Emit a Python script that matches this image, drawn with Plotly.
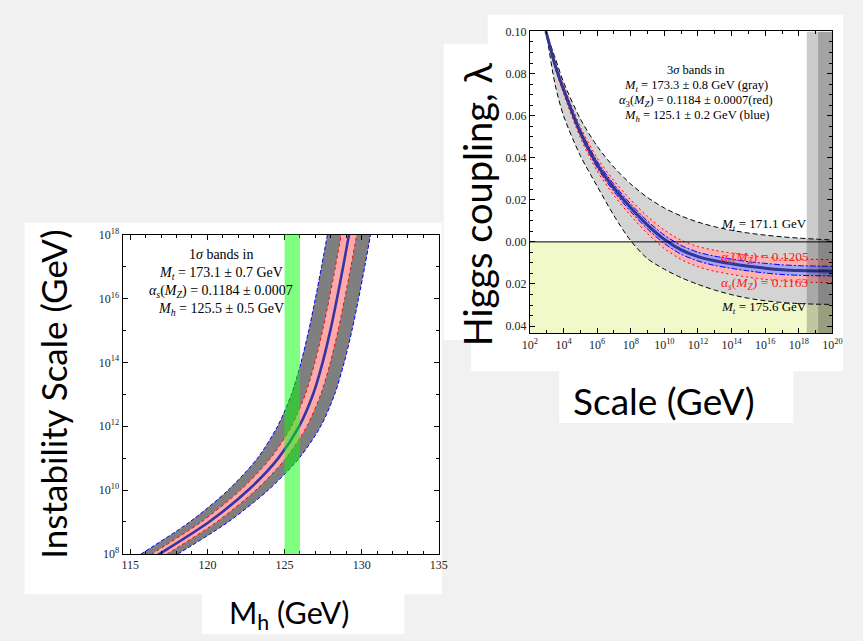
import plotly.graph_objects as go

W, H = 863, 641
def px(x): return x / W
def py(y): return 1 - y / H

# ---------------- Left panel data (instability scale vs Higgs mass) ----------------
log_lambda  = [7.7, 8, 9, 10, 11, 12, 13, 14, 15, 16, 17, 18, 18.3]
mh_central  = [115.9, 116.9, 120.1, 122.65, 124.6, 125.95, 126.85, 127.47, 127.97, 128.4, 128.8, 129.18, 129.3]
mh_gray_half = [1.2, 1.2, 1.25, 1.3, 1.35, 1.4, 1.4, 1.4, 1.4, 1.4, 1.4, 1.4, 1.4]   # M_t band (1 sigma)
mh_pink_half = [0.5, 0.5, 0.5, 0.5, 0.5, 0.5, 0.5, 0.5, 0.5, 0.5, 0.5, 0.5, 0.5]    # alpha_s band
mh_exp_band  = [125.0, 126.0]
left_x_range = [114.5, 135]
left_y_range = [8, 18]
left_xticks  = [115, 120, 125, 130, 135]
left_ytick_exps  = [8, 10, 12, 14, 16, 18]
left_yminor_exps = [9, 11, 13, 15, 17]

# ---------------- Right panel data (Higgs coupling vs scale) ----------------
log_mu    = [2.7, 3, 3.5, 4, 5, 6, 7, 8, 9, 10, 11, 12, 13, 14, 15, 16, 17, 18, 19, 20, 20.3]
lam_c     = [0.1075, 0.0987, 0.0840, 0.0725, 0.0521, 0.0368, 0.0256, 0.0162, 0.0080, 0.0012, -0.0038, -0.0070,
             -0.0090, -0.0104, -0.0116, -0.0125, -0.0132, -0.0136, -0.0138, -0.0139, -0.0139]
lam_mt_lo = [0.1080, 0.0991, 0.0875, 0.0760, 0.0585, 0.0455, 0.0355, 0.0275, 0.0211, 0.0161, 0.0123, 0.0094,
             0.0072, 0.0055, 0.0042, 0.0032, 0.0024, 0.0018, 0.0013, 0.0009, 0.0008]          # M_t = 171.1 GeV
lam_mt_hi = [0.1120, 0.0981, 0.0748, 0.0600, 0.0410, 0.0265, 0.0125, 0.0005, -0.0080, -0.0130, -0.0170, -0.0202,
             -0.0229, -0.0251, -0.0268, -0.0280, -0.0288, -0.0293, -0.0296, -0.0297, -0.0297]  # M_t = 175.6 GeV
alpha_half = [0.0005, 0.0008, 0.0015, 0.0020, 0.0026, 0.0031, 0.0035, 0.0038, 0.0041, 0.0044, 0.0046, 0.0048,
              0.0050, 0.0051, 0.0052, 0.0053, 0.0054, 0.0054, 0.0055, 0.0055, 0.0055]
mh_half    = [0.0003, 0.0005, 0.0008, 0.0010, 0.0013, 0.0015, 0.0017, 0.0018, 0.0019, 0.0020, 0.0021, 0.0021,
              0.0022, 0.0022, 0.0022, 0.0023, 0.0023, 0.0023, 0.0023, 0.0023, 0.0023]
planck_band_log = [18.47, 19.15, 20.0]
right_x_range = [2, 20]
right_y_range = [-0.0434, 0.10]
right_xtick_exps  = [2, 4, 6, 8, 10, 12, 14, 16, 18, 20]
right_xminor_exps = [3, 5, 7, 9, 11, 13, 15, 17, 19]
right_yticks = [-0.04, -0.02, 0.00, 0.02, 0.04, 0.06, 0.08, 0.10]
right_yticktext = ["0.04", "0.02", "0.00", "0.02", "0.04", "0.06", "0.08", "0.10"]

SERIF = "Liberation Serif, Times New Roman, serif"
SANS = "Lato, Open Sans, sans-serif"

def pw(vals):
    return [10.0 ** v for v in vals]
def add(a, b, s=1):
    return [u + s * v for u, v in zip(a, b)]

fig = go.Figure()

# ---- left panel traces ----
yl = pw(log_lambda)
def left_line(x, color, dash, width=1, fill=None, fillcolor=None):
    fig.add_trace(go.Scatter(x=x, y=yl, mode="lines", fill=fill, fillcolor=fillcolor,
                             line=dict(color=color, width=width, dash=dash, shape="spline", smoothing=0.8),
                             xaxis="x", yaxis="y", showlegend=False, hoverinfo="skip"))
left_line(add(mh_central, mh_gray_half, -1), "#0000ff", "4px,2px")
left_line(add(mh_central, mh_gray_half, 1), "#0000ff", "4px,2px", fill="tonextx", fillcolor="#7f7f7f")
left_line(add(mh_central, mh_pink_half, -1), "#ff0000", "3px,3px")
left_line(add(mh_central, mh_pink_half, 1), "#ff0000", "3px,3px", fill="tonextx", fillcolor="#ffaaaa")
left_line(mh_central, "#3434a4", "solid", width=2.6)

# ---- right panel traces ----
xr = pw(log_mu)
def right_line(y, color, dash, width=1, fill=None, fillcolor=None):
    fig.add_trace(go.Scatter(x=xr, y=y, mode="lines", fill=fill, fillcolor=fillcolor,
                             line=dict(color=color, width=width, dash=dash, shape="spline", smoothing=0.8),
                             xaxis="x2", yaxis="y2", showlegend=False, hoverinfo="skip"))
right_line(lam_mt_hi, "black", "5px,3px")
right_line(lam_mt_lo, "black", "5px,3px", fill="tonexty", fillcolor="#d4d4d4")
right_line(add(lam_c, alpha_half, -1), "#ff0000", "2px,3px")
right_line(add(lam_c, alpha_half, 1), "#ff0000", "2px,3px", fill="tonexty", fillcolor="#ffb2b2")
right_line(add(lam_c, mh_half, -1), "#0000ff", "6px,2px,2px,2px")
right_line(add(lam_c, mh_half, 1), "#0000ff", "6px,2px,2px,2px", fill="tonexty", fillcolor="#a4a4f4")
right_line(lam_c, "#353592", "solid", width=3)
fig.add_trace(go.Scatter(x=pw(right_x_range), y=[0, 0], mode="lines", line=dict(color="black", width=1),
                         xaxis="x2", yaxis="y2", showlegend=False, hoverinfo="skip"))
# Planck-scale shaded strips
for lo in planck_band_log[:2]:
    xs = pw([lo, planck_band_log[2], planck_band_log[2], lo])
    ys = [right_y_range[0], right_y_range[0], right_y_range[1], right_y_range[1]]
    fig.add_trace(go.Scatter(x=xs, y=ys, mode="lines", fill="toself", fillcolor="rgba(0,0,0,0.2)",
                             line=dict(width=0), xaxis="x2", yaxis="y2", showlegend=False, hoverinfo="skip"))

shapes = []
# white panels
for (x0, y0, x1, y1) in [(17, 220, 443, 600), (198, 600, 405, 641),
                         (490, 7, 853, 372), (445, 37, 490, 340), (473, 340, 490, 372), (563, 372, 802, 425)]:
    shapes.append(dict(type="rect", xref="paper", yref="paper", x0=px(x0), x1=px(x1), y0=py(y1), y1=py(y0),
                       fillcolor="white", line=dict(width=0), layer="below"))
# yellow unstable region (lambda < 0)
shapes.append(dict(type="rect", xref="x2 domain", yref="y2", x0=0, x1=1, y0=right_y_range[0], y1=0,
                   fillcolor="#f1f8c9", line=dict(width=0), layer="below"))
# experimental Higgs mass band (left)
shapes.append(dict(type="rect", xref="x", yref="y domain", x0=mh_exp_band[0], x1=mh_exp_band[1], y0=0, y1=1,
                   fillcolor="rgba(0,255,0,0.5)", line=dict(width=0), layer="above"))

ann = []
def text(x, y, s, size=13, color="black", font=SERIF, angle=0):
    ann.append(dict(x=px(x), y=py(y), xref="paper", yref="paper", text=s, showarrow=False,
                    font=dict(family=font, size=size, color=color), textangle=angle,
                    xanchor="center", yanchor="middle"))

# left panel inset text
text(218, 252, "1<i>σ</i> bands in", 14)
text(218, 272, "<i>M<sub>t</sub></i> = 173.1 ± 0.7 GeV", 14)
text(218, 290, "<i>α<sub>s</sub></i>(<i>M<sub>Z</sub></i>) = 0.1184 ± 0.0007", 14)
text(218, 309, "<i>M<sub>h</sub></i> = 125.5 ± 0.5 GeV", 14)
# right panel inset text
text(703, 63, "3<i>σ</i> bands in", 12.5)
text(703, 80, "<i>M<sub>t</sub></i> = 173.3 ± 0.8 GeV (gray)", 12.5)
text(703, 95, "<i>α</i><sub>3</sub>(<i>M<sub>Z</sub></i>) = 0.1184 ± 0.0007(red)", 12.5)
text(703, 111, "<i>M<sub>h</sub></i> = 125.1 ± 0.2 GeV (blue)", 12.5)
text(772, 222, "<i>M<sub>t</sub></i> = 171.1 GeV", 13)
text(772, 307, "<i>M<sub>t</sub></i> = 175.6 GeV", 13)
text(773, 255, "<i>α<sub>s</sub></i>(<i>M<sub>Z</sub></i>) = 0.1205", 13.5, color="#ff2020")
text(773, 282, "<i>α<sub>s</sub></i>(<i>M<sub>Z</sub></i>) = 0.1163", 13.5, color="#ff2020")
# axis titles
text(46, 396, "Instability Scale (GeV)", 35, font=SANS, angle=-90)
text(287, 621, "M<sub>h</sub> (GeV)", 30.5, font=SANS)
text(479, 201, "Higgs coupling, λ", 38, font=SANS, angle=-90)
text(670, 402, "Scale (GeV)", 37, font=SANS)

common = dict(showgrid=False, zeroline=False, showline=True, linecolor="black", linewidth=1,
              mirror="allticks", ticks="inside", ticklen=5, tickwidth=1, tickcolor="black",
              tickfont=dict(family=SERIF, size=12, color="#222"))

fig.update_layout(
    width=W, height=H, margin=dict(l=0, r=0, t=0, b=0),
    paper_bgcolor="#f1f1f1", plot_bgcolor="white",
    showlegend=False,
    xaxis=dict(domain=[px(117), px(440)], range=left_x_range, anchor="y",
               tickmode="array", tickvals=left_xticks, ticktext=[str(v) for v in left_xticks],
               minor=dict(dtick=1, tick0=115, ticks="inside", ticklen=3, tickcolor="black"), **common),
    yaxis=dict(domain=[py(559), py(232)], type="log", range=left_y_range, anchor="x",
               tickmode="array", tickvals=pw(left_ytick_exps),
               ticktext=[f"10<sup>{e}</sup>" for e in left_ytick_exps],
               minor=dict(tickmode="array", tickvals=pw(left_yminor_exps), ticks="inside", ticklen=3, tickcolor="black"),
               **common),
    xaxis2=dict(domain=[px(533), px(842)], type="log", range=right_x_range, anchor="y2",
                tickmode="array", tickvals=pw(right_xtick_exps),
                ticktext=[f"10<sup>{e}</sup>" for e in right_xtick_exps],
                minor=dict(tickmode="array", tickvals=pw(right_xminor_exps), ticks="inside", ticklen=3, tickcolor="black"),
                **common),
    yaxis2=dict(domain=[py(333), py(24)], range=right_y_range, anchor="x2",
                tickmode="array", tickvals=right_yticks, ticktext=right_yticktext,
                minor=dict(dtick=0.005, tick0=0, ticks="inside", ticklen=3, tickcolor="black"), **common),
    shapes=shapes, annotations=ann,
)

fig.write_html("out.html")
